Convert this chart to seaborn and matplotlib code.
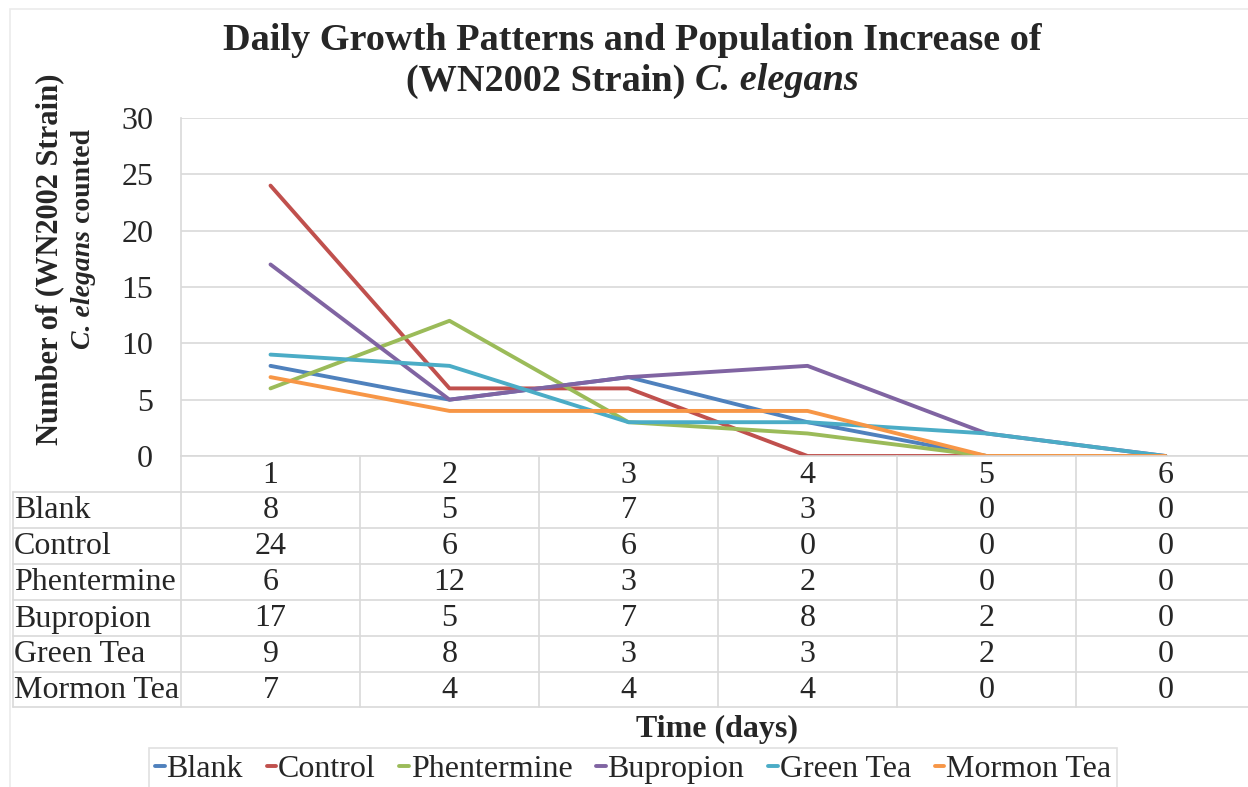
import numpy as np
import pandas as pd
import matplotlib
matplotlib.use("Agg")
import matplotlib.pyplot as plt
from matplotlib.patches import Rectangle
from matplotlib.lines import Line2D
import seaborn as sns

# ---- data -------------------------------------------------------------
days = [1, 2, 3, 4, 5, 6]
treatments = ["Blank", "Control", "Phentermine", "Bupropion", "Green Tea", "Mormon Tea"]
blank = [8, 5, 7, 3, 0, 0]
control = [24, 6, 6, 0, 0, 0]
phentermine = [6, 12, 3, 2, 0, 0]
bupropion = [17, 5, 7, 8, 2, 0]
green_tea = [9, 8, 3, 3, 2, 0]
mormon_tea = [7, 4, 4, 4, 0, 0]
colors = ["#4F81BD", "#C0504D", "#9BBB59", "#8064A2", "#4BACC6", "#F79646"]
y_ticks = [0, 5, 10, 15, 20, 25, 30]

series = [blank, control, phentermine, bupropion, green_tea, mormon_tea]
df = pd.DataFrame(
    [(d, t, v) for t, vals in zip(treatments, series) for d, v in zip(days, vals)],
    columns=["day", "treatment", "count"],
)

# ---- figure setup -----------------------------------------------------
sns.set_theme(style="white")
plt.rcParams["font.family"] = ["Liberation Serif", "DejaVu Serif"]

W, H = 1248, 787
fig = plt.figure(figsize=(W / 100, H / 100), dpi=100)

def fx(px):
    return px / W

def fy(py):
    return 1 - py / H

GRID = "#D9D9D9"
FS = 23
LW = 2.8

# plot area: categories are 179 px apart, first centre 89.5 px from left edge
left_px, top_px, bot_px = 181, 118, 456
step = 179
ax = fig.add_axes([fx(left_px), fy(bot_px), 1 - fx(left_px), fy(top_px) - fy(bot_px)])
ax.set_xlim(0.5, 0.5 + (W - left_px) / step)
ax.set_ylim(0, 30)

sns.lineplot(data=df, x="day", y="count", hue="treatment", hue_order=treatments,
             palette=colors, linewidth=LW, ax=ax, legend=False, sort=False)

ax.set_yticks(y_ticks)
ax.set_yticklabels([str(t) for t in y_ticks], fontsize=FS)
ax.tick_params(axis="y", length=0, pad=20)
ax.set_xticks([])
ax.set_xlabel("")
ax.set_ylabel("")
for ln in ax.get_lines():
    ln.set_solid_capstyle("round")
    ln.set_solid_joinstyle("round")
ax.grid(axis="y", color=GRID, linewidth=1.2)
ax.set_axisbelow(True)
for s in ["top", "right"]:
    ax.spines[s].set_visible(False)
for s in ["left", "bottom"]:
    ax.spines[s].set_color(GRID)
    ax.spines[s].set_linewidth(1.2)

# ---- data table under the axis ----------------------------------------
row_h = 36
header_top = bot_px
table_left = 13
n_rows = len(treatments)
table_bottom = header_top + row_h * (n_rows + 1) - 1

def line_px(x0, y0, x1, y1):
    fig.add_artist(Line2D([fx(x0), fx(x1)], [fy(y0), fy(y1)], color=GRID,
                          linewidth=1.2, transform=fig.transFigure))

# horizontal rules
for r in range(1, n_rows + 2):
    y = header_top + row_h * r if r <= n_rows else table_bottom
    line_px(table_left, y, W + 10, y)
# vertical rules
line_px(table_left, header_top + row_h, table_left, table_bottom)
for k in range(len(days) + 1):
    x = left_px + step * k
    line_px(x, header_top, x, table_bottom)

blend = matplotlib.transforms.blended_transform_factory(ax.transData, fig.transFigure)
for d in days:
    t = fig.text(0, 0, str(d), transform=blend, fontsize=FS, ha="center", va="center")
    t.set_position((d, fy(header_top + row_h / 2 + 1)))
for i, (name, vals) in enumerate(zip(treatments, series)):
    yc = fy(header_top + row_h * (i + 1.5) + 1)
    fig.text(fx(table_left + 1), yc, name, fontsize=FS, ha="left", va="center")
    for d, v in zip(days, vals):
        t = fig.text(0, 0, str(v), transform=blend, fontsize=FS, ha="center", va="center")
        t.set_position((d, yc))

# ---- titles -----------------------------------------------------------
TFS = 27.5
fig.text(fx(632), fy(40), "Daily Growth Patterns and Population Increase of",
         fontsize=TFS, fontweight="bold", ha="center", va="center")
part_a = "(WN2002 Strain) "
part_b = "C. elegans"
ta = fig.text(0, fy(81), part_a, fontsize=TFS, fontweight="bold", ha="left", va="center")
tb = fig.text(0, fy(81), part_b, fontsize=TFS, fontweight="bold", style="italic",
              ha="left", va="center")
fig.canvas.draw()
r = fig.canvas.get_renderer()
wa = ta.get_window_extent(r).width
wb = tb.get_window_extent(r).width
x0 = 632 - (wa + wb) / 2
ta.set_x(fx(x0))
tb.set_x(fx(x0 + wa))

# y-axis label, two rotated lines
fig.text(fx(50), fy(259), "Number of (WN2002 Strain)", fontsize=22, fontweight="bold",
         rotation=90, ha="center", va="center")
la = fig.text(fx(83), 0, "C. elegans", fontsize=20, fontweight="bold", style="italic",
              rotation=90, ha="center", va="bottom")
lb = fig.text(fx(83), 0, " counted", fontsize=20, fontweight="bold",
              rotation=90, ha="center", va="bottom")
fig.canvas.draw()
ha_ = la.get_window_extent(r).height
hb_ = lb.get_window_extent(r).height
ystart = 239 + (ha_ + hb_) / 2
la.set_y(fy(ystart))
lb.set_y(fy(ystart - ha_))

fig.text(fx(717), fy(729), "Time (days)", fontsize=23, fontweight="bold",
         ha="center", va="center")

# ---- legend -----------------------------------------------------------
handles = [Line2D([0], [0], color=c, linewidth=LW) for c in colors]
leg = fig.legend(handles, treatments, loc="center", bbox_to_anchor=(fx(633), fy(769)),
                 ncol=6, fontsize=FS, frameon=True, fancybox=False,
                 handlelength=0.3, handletextpad=0.05, columnspacing=0.75,
                 borderpad=0.2, borderaxespad=0)
leg.get_frame().set_edgecolor(GRID)
leg.get_frame().set_linewidth(1.2)

# outer chart border
fig.add_artist(Rectangle((fx(10), fy(H + 20)), 1.2, fy(9) - fy(H + 20),
                         transform=fig.transFigure, fill=False,
                         edgecolor="#EBEBEB", linewidth=1.2))

fig.savefig("out.png", dpi=100, facecolor="white")
